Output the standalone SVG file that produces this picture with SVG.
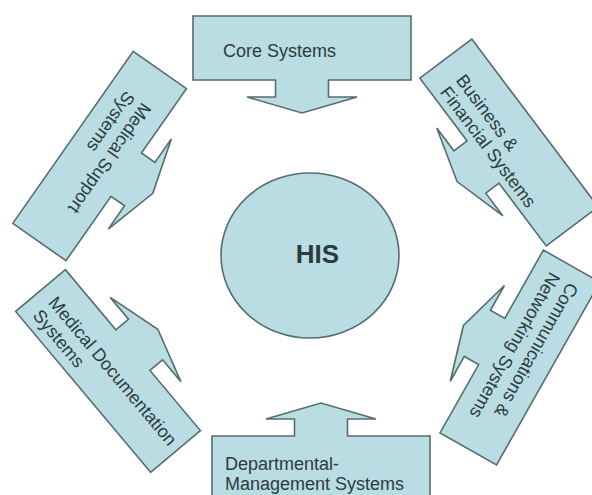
<svg xmlns="http://www.w3.org/2000/svg" xmlns:xlink="http://www.w3.org/1999/xlink" width="592" height="495" viewBox="0 0 592 495">
  <defs>
    <!-- block with an arrow on its lower long side, centred at the origin -->
    <path id="callout-wide" d="M -109,-32 H 109 V 32 H 26.5 V 49 H 55 L 0,65 L -55,49 H -26.5 V 32 H -109 Z"/>
    <path id="callout" d="M -105,-32.5 H 105 V 32.5 H 26.5 V 49 H 55 L 0,65 L -55,49 H -26.5 V 32.5 H -105 Z"/>
  </defs>
  <style>
    .shape { fill: #b9dde2; stroke: #566d70; stroke-width: 1.6; stroke-linejoin: miter; }
    .label { font-family: "Liberation Sans", Arial, sans-serif; font-size: 18px; fill: #2d3b3e; }
    .hub { font-family: "Liberation Sans", Arial, sans-serif; font-size: 26px; font-weight: bold; fill: #2d3b3e; }
  </style>
  <rect width="592" height="495" fill="#ffffff"/>

  <g id="core-systems">
    <use xlink:href="#callout-wide" href="#callout-wide" class="shape" transform="translate(302,48)"/>
    <text class="label" x="223" y="57">Core Systems</text>
  </g>

  <g id="business-financial-systems" transform="translate(509,142.5) rotate(53)">
    <use xlink:href="#callout" href="#callout" class="shape"/>
    <text class="label" x="-82" y="5.5">Business &amp;</text>
    <text class="label" x="-82" y="25.5">Financial Systems</text>
  </g>

  <g id="communications-networking-systems" transform="translate(520,357.5) rotate(119.5)">
    <use xlink:href="#callout" href="#callout" class="shape"/>
    <text class="label" x="-90" y="-4.5">Communications &amp;</text>
    <text class="label" x="-90" y="16.5">Networking Systems</text>
  </g>

  <g id="departmental-management-systems">
    <use xlink:href="#callout-wide" href="#callout-wide" class="shape" transform="translate(321,468) rotate(180)"/>
    <text class="label" x="225" y="469.5">Departmental-</text>
    <text class="label" x="225" y="489.5">Management Systems</text>
  </g>

  <g id="medical-documentation-systems" transform="translate(108,371) rotate(-130)">
    <use xlink:href="#callout" href="#callout" class="shape"/>
    <g transform="rotate(180)">
      <text class="label" x="-91" y="2.5">Medical Documentation</text>
      <text class="label" x="-91" y="23">Systems</text>
    </g>
  </g>

  <g id="medical-support-systems" transform="translate(99.6,156) rotate(-55)">
    <use xlink:href="#callout" href="#callout" class="shape"/>
    <g transform="rotate(180)">
      <text class="label" x="-69" y="-3.5">Medical Support</text>
      <text class="label" x="-69" y="16.5">Systems</text>
    </g>
  </g>

  <g id="his">
    <ellipse class="shape" cx="310" cy="255.5" rx="89" ry="82.5"/>
    <text class="hub" x="317.5" y="263" text-anchor="middle">HIS</text>
  </g>
</svg>
